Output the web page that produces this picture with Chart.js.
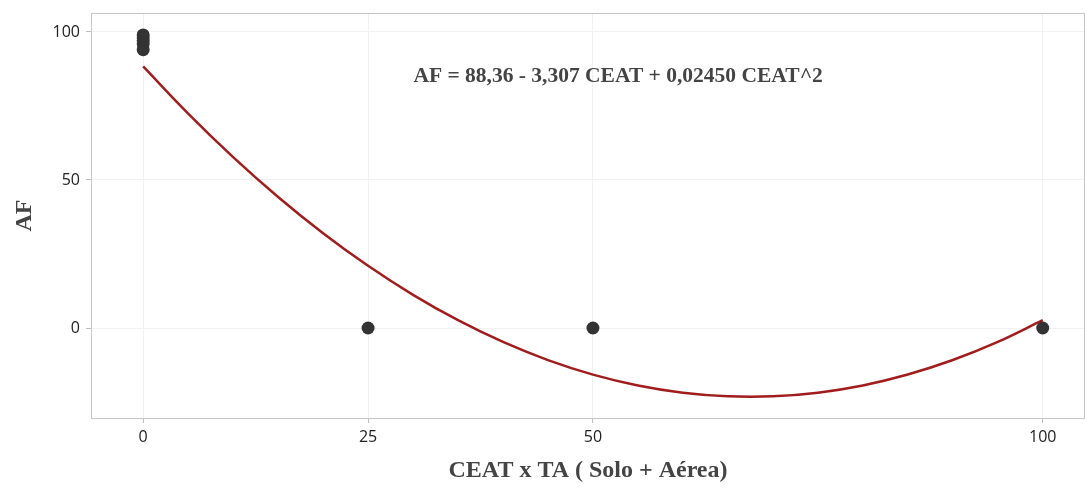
<!DOCTYPE html>
<html>
<head>
<meta charset="utf-8">
<script src="https://cdn.jsdelivr.net/npm/chart.js@4"></script>
<style>
  html, body { margin: 0; padding: 0; background: #ffffff; }
  #wrap { width: 1086px; height: 488px; position: relative; }
</style>
</head>
<body>
<div id="wrap"><canvas id="c" width="1086" height="488"></canvas></div>
<script>
// Observed values
const obsX = [0, 0, 0, 0, 0, 25, 50, 100];
const obsAF = [99, 98, 97, 96, 94, 0, 0, 0];
// Fitted curve values
const fitX = [0, 5, 10, 15, 20, 25, 30, 35, 40, 45, 50, 55, 60, 65, 70, 75, 80, 85, 90, 95, 100];
const fitAF = [88.36, 72.44, 57.74, 44.27, 32.02, 21.00, 11.20, 2.63, -4.72, -10.84, -15.74, -19.41, -21.86, -23.08, -23.08, -21.85, -19.40, -15.72, -10.82, -4.69, 2.66];
// Tick labels
const xTicks = [0, 25, 50, 100];
const yTicks = [0, 50, 100];
// Texts
const xTitle = 'CEAT x TA ( Solo + Aérea)';
const yTitle = 'AF';
const equationText = 'AF = 88,36 - 3,307 CEAT + 0,02450 CEAT^2';
const equationPos = { x: 52.8, y: 84.8 };

const obsData = obsX.map((x, i) => ({ x: x, y: obsAF[i] }));
const fitData = fitX.map((x, i) => ({ x: x, y: fitAF[i] }));

function zeroPad(scale) {
  scale.paddingLeft = 0;
  scale.paddingRight = 0;
  scale.paddingTop = 0;
  scale.paddingBottom = 0;
}

const borderPlugin = {
  id: 'frame',
  afterDraw(chart) {
    const { ctx, chartArea: a, scales } = chart;
    ctx.save();
    ctx.strokeStyle = '#c6c6c6';
    ctx.lineWidth = 1;
    ctx.strokeRect(a.left + 0.5, a.top + 0.5, a.right - a.left - 1, a.bottom - a.top);
    ctx.fillStyle = '#444444';
    ctx.font = 'bold 21.5px "Liberation Serif", "Times New Roman", serif';
    ctx.textAlign = 'center';
    ctx.textBaseline = 'middle';
    ctx.fillText(equationText, scales.x.getPixelForValue(equationPos.x), scales.y.getPixelForValue(equationPos.y));
    ctx.restore();
  }
};

new Chart(document.getElementById('c'), {
  type: 'scatter',
  data: {
    datasets: [
      {
        label: 'Observado',
        data: obsData,
        pointRadius: 6.5,
        pointHoverRadius: 6.5,
        pointBackgroundColor: '#333333',
        pointBorderColor: '#333333',
        pointBorderWidth: 0,
        showLine: false,
        order: 1
      },
      {
        label: 'Ajuste',
        data: fitData,
        showLine: true,
        pointRadius: 0,
        borderColor: '#a11d1d',
        borderWidth: 2.5,
        tension: 0.4,
        fill: false,
        order: 2
      }
    ]
  },
  options: {
    responsive: false,
    animation: false,
    layout: { autoPadding: false, padding: { left: 0, top: 13, right: 1, bottom: 0 } },
    plugins: {
      legend: { display: false },
      tooltip: { enabled: false }
    },
    scales: {
      x: {
        type: 'linear',
        min: -5.8,
        max: 104.7,
        afterBuildTicks(scale) { scale.ticks = xTicks.map(v => ({ value: v })); },
        afterFit(scale) { scale.height = 70; zeroPad(scale); },
        border: { display: false },
        grid: { color: '#f1f1f1', tickColor: '#bdbdbd', tickLength: 5, drawTicks: true },
        ticks: {
          color: '#222222',
          font: { family: '"Open Sans", "Noto Sans", sans-serif', size: 16 },
          padding: 5,
          maxRotation: 0
        },
        title: {
          display: true,
          text: xTitle,
          color: '#444444',
          font: { family: '"Liberation Serif", "Times New Roman", serif', size: 24, weight: 'bold' },
          padding: { top: 0, bottom: 3 }
        }
      },
      y: {
        type: 'linear',
        min: -30.4,
        max: 106.4,
        afterBuildTicks(scale) { scale.ticks = yTicks.map(v => ({ value: v })); },
        afterFit(scale) { scale.width = 91; zeroPad(scale); },
        border: { display: false },
        grid: { color: '#f1f1f1', tickColor: '#bdbdbd', tickLength: 5, drawTicks: true },
        ticks: {
          color: '#222222',
          font: { family: '"Open Sans", "Noto Sans", sans-serif', size: 16 },
          padding: 6
        },
        title: {
          display: true,
          text: yTitle,
          color: '#444444',
          font: { family: '"Liberation Serif", "Times New Roman", serif', size: 24, weight: 'bold' },
          padding: { top: 10, bottom: 0 }
        }
      }
    }
  },
  plugins: [borderPlugin]
});
</script>
</body>
</html>
